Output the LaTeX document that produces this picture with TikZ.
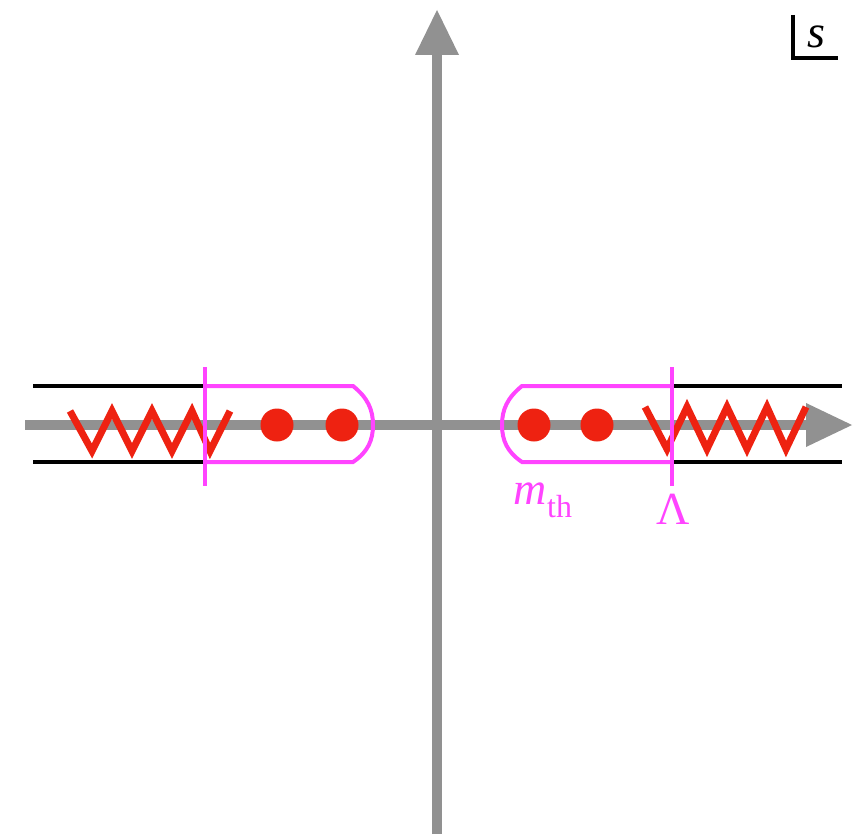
\documentclass[tikz,border=0pt]{standalone}
\usepackage{fontspec}
\setmainfont{Liberation Serif}
\definecolor{axisgray}{RGB}{145,145,145}
\definecolor{polered}{RGB}{238,34,17}
\definecolor{cutpink}{RGB}{255,68,255}
\begin{document}
\begin{tikzpicture}[x=1pt,y=-1pt,
  axisline/.style={axisgray,line width=10pt},
  axishead/.style={fill=axisgray,draw=none},
  rail/.style={black,line width=4pt},
  zig/.style={polered,line width=7pt,line join=miter},
  pole/.style={circle,fill=polered,minimum size=33pt,inner sep=0pt},
  cutline/.style={cutpink,line width=4pt},
  lbl/.style={inner sep=0pt,font=\fontsize{46}{50}\selectfont}]
\useasboundingbox (0,0) rectangle (866,834);
% rails
\draw[rail] (33,386) -- (205,386);
\draw[rail] (33,462) -- (205,462);
\draw[rail] (672,386) -- (842,386);
\draw[rail] (672,462) -- (842,462);
% axes
\draw[axisline] (25,425) -- (812,425);
\fill[axishead] (806,403) -- (852,425) -- (806,447) -- cycle;
\draw[axisline] (437,834) -- (437,50);
\fill[axishead] (415,55) -- (437,10) -- (459,55) -- cycle;
% zigzags
\draw[zig] (70,411) -- (92,451) -- (112,411) -- (132,451) -- (152,411) -- (172,451) -- (192,411) -- (210,451) -- (230,411);
\draw[zig] (645,407) -- (667,449) -- (687,407) -- (707,449) -- (727,407) -- (747,449) -- (767,407) -- (786,449) -- (806,407);
% poles
\node[pole] (p1) at (277,425) {};
\node[pole] (p2) at (342,425) {};
\node[pole] (p3) at (534,425) {};
\node[pole] (p4) at (597,425) {};
% capsules
\draw[cutline] (205,386) -- (353,386) .. controls (368,398) and (373,410) .. (373,425) .. controls (373,440) and (368,452) .. (353,462) -- (205,462);
\draw[cutline] (672,386) -- (522,386) .. controls (507,398) and (502,410) .. (502,425) .. controls (502,440) and (507,452) .. (522,462) -- (672,462);
\draw[cutline] (205,367) -- (205,486);
\draw[cutline] (672,367) -- (672,486);
% labels
\node[lbl,text=cutpink] (mth) at (543,500) {\textit{m}\raisebox{-0.28em}{\fontsize{32}{36}\selectfont th}};
\node[lbl,text=cutpink] (lam) at (673,509) {Λ};
% s label
\draw[black,line width=4pt] (793,15) -- (793,58) -- (838,58);
\node[lbl] (s) at (816,37) {\textit{s}};
\end{tikzpicture}
\end{document}
